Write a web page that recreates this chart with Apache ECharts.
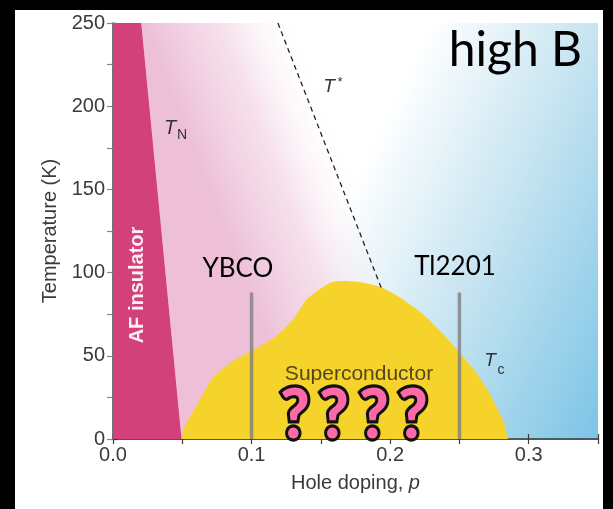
<!DOCTYPE html>
<html>
<head>
<meta charset="utf-8">
<script src="https://cdn.jsdelivr.net/npm/echarts@6/dist/echarts.min.js"></script>
<style>
html,body{margin:0;padding:0;background:#000;}
#c{width:613px;height:509px;}
</style>
</head>
<body>
<div id="c"></div>
<script>
// ---- data ----
var xTicks = [0.0, 0.1, 0.2, 0.3];
var yTicks = [0, 50, 100, 150, 200, 250];
// AF insulator boundary (T_N line), p vs T
var afP = [0, 0.0204, 0.0495];
var afT = [250, 250, 0];
// Superconducting dome (T_c), p vs T
var domeP = [0.0495,0.052,0.058,0.065,0.072,0.087,0.1,0.113,0.122,0.13,0.14,0.157,0.167,0.18,0.194,0.207,0.225,0.248,0.262,0.27,0.277,0.282,0.285];
var domeT = [0,8,17,27,37,47,53,59,65,72,84,94,95,94,91,85,74,54,40,30,19,10,0];
// T* pseudogap line (dashed)
var tStarP = [0.119, 0.1935];
var tStarT = [250, 91];
// measured samples (grey vertical lines)
var sampleP = [0.1, 0.25];
var sampleTop = [88, 88];

var chart = echarts.init(document.getElementById('c'));
var AXC = '#3a3a3a';
var FONT = '"Liberation Sans", Arial, sans-serif';

function zip(a, b) { return a.map(function (v, i) { return [v, b[i]]; }); }

var series = [];
// pink overlay fading towards T*
series.push({
  type: 'custom', z: 1, silent: true,
  data: [[0, 0]],
  renderItem: function (params, api) {
    var pts = [
      api.coord([afP[1], afT[1]]),
      api.coord([afP[2], afT[2]]),
      api.coord([0.35, 0]),
      api.coord([0.35, 250])
    ];
    var a = api.coord([tStarP[0], tStarT[0]]);
    var b = api.coord([tStarP[1], tStarT[1]]);
    var dx = b[0] - a[0], dy = b[1] - a[1];
    var L = Math.sqrt(dx * dx + dy * dy);
    var nx = dy / L, ny = -dx / L;
    var s0 = [a[0] - 125 * nx, a[1] - 125 * ny];
    var s1 = [a[0] + 20 * nx, a[1] + 20 * ny];
    var grad = new echarts.graphic.LinearGradient(s0[0], s0[1], s1[0], s1[1], [
      {offset: 0, color: 'rgba(237,192,216,1)'},
      {offset: 0.5, color: 'rgba(240,205,224,0.6)'},
      {offset: 1, color: 'rgba(255,255,255,0)'}
    ], true);
    return {type: 'polygon', shape: {points: pts}, style: {fill: grad}};
  }
});
// AF insulator
series.push({
  type: 'line', z: 3, silent: true, symbol: 'none',
  data: zip(afP, afT),
  lineStyle: {width: 0},
  areaStyle: {color: '#d3417b', opacity: 1}
});
// superconducting dome
series.push({
  type: 'line', z: 4, silent: true, symbol: 'none', smooth: 0.25,
  data: zip(domeP, domeT),
  lineStyle: {width: 0},
  areaStyle: {color: '#f6d32b', opacity: 1}
});
// grey sample lines
sampleP.forEach(function (p, i) {
  series.push({
    type: 'line', z: 5, silent: true, symbol: 'none',
    data: [[p, 0], [p, sampleTop[i]]],
    lineStyle: {color: 'rgba(128,128,128,0.8)', width: 3.5}
  });
});
// T* dashed
series.push({
  type: 'line', z: 6, silent: true, symbol: 'none',
  data: zip(tStarP, tStarT),
  lineStyle: {color: '#222', width: 1.3, type: [5, 4]}
});

function txt(x, y, s, st, extra) {
  var o = {type: 'text', x: x, y: y, z: 100, style: Object.assign({
    text: s, fontFamily: FONT, fill: '#333', align: 'center', verticalAlign: 'middle'
  }, st)};
  return Object.assign(o, extra || {});
}

var graphics = [
  {type: 'rect', z: -100, shape: {x: 15, y: 10, width: 588, height: 499}, style: {fill: '#fff'}},
  txt(582, 51, 'high B', {fontFamily: 'Lato, "Open Sans", sans-serif', fontSize: 48, fill: '#000', align: 'right'}),
  txt(238, 269, 'YBCO', {fontFamily: 'Lato, "Open Sans", sans-serif', fontSize: 26, fill: '#000'}),
  txt(455, 267, 'Tl2201', {fontFamily: 'Lato, "Open Sans", sans-serif', fontSize: 26, fill: '#000'}),
  txt(359, 374, 'Superconductor', {fontSize: 21, fill: '#55451f'}),
  txt(170, 128, 'T', {fontSize: 20, fontStyle: 'italic'}),
  txt(182, 135, 'N', {fontSize: 14}),
  txt(329, 87, 'T', {fontSize: 19, fontStyle: 'italic'}),
  txt(340, 82, '*', {fontSize: 13}),
  txt(490, 361, 'T', {fontSize: 19, fontStyle: 'italic'}),
  txt(501, 370, 'c', {fontSize: 14}),
  txt(137, 285, 'AF insulator', {fontSize: 20, fontWeight: 'bold', fill: '#fbeef4'}, {rotation: Math.PI / 2})
];
var qx = [295, 334, 374, 413];
qx.forEach(function (x) {
  graphics.push({
    type: 'text', x: x, y: 416, z: 101, scaleY: 1.08,
    style: {text: '?', fontFamily: 'Lato, "DejaVu Sans", sans-serif', fontWeight: 900, fontSize: 64,
      fill: '#fd6aa7', stroke: '#111', lineWidth: 6, strokeFirst: true,
      align: 'center', verticalAlign: 'middle'}
  });
});

var tickStyle = {show: true, inside: true, length: 5, lineStyle: {color: AXC, width: 1.2}};

chart.setOption({
  backgroundColor: '#000',
  animation: false,
  grid: {
    left: 113, top: 23, right: 15, bottom: 70, show: true, borderWidth: 0, z: 0,
    backgroundColor: new echarts.graphic.LinearGradient(0.57, 0.2, 1.19, 0.55, [
      {offset: 0, color: '#ffffff'},
      {offset: 0.45, color: '#c6e4f1'},
      {offset: 1, color: '#7cc4e6'}
    ])
  },
  xAxis: [{
    type: 'value', min: 0, max: 0.35, interval: 0.05,
    axisLine: {show: true, lineStyle: {color: AXC, width: 1.5}},
    axisTick: tickStyle,
    splitLine: {show: false},
    axisLabel: {
      color: AXC, fontSize: 20, fontFamily: FONT, margin: 6,
      formatter: function (v) {
        var k = Math.round(v * 100);
        for (var i = 0; i < xTicks.length; i++) {
          if (Math.round(xTicks[i] * 100) === k) return xTicks[i].toFixed(1);
        }
        return '';
      }
    },
    name: 'Hole doping, {i|p}', nameLocation: 'middle', nameGap: 34,
    nameTextStyle: {color: AXC, fontSize: 20, fontFamily: FONT, rich: {i: {fontStyle: 'italic', fontSize: 20, color: AXC, fontFamily: FONT}}}
  }, {
    type: 'value', position: 'top', min: 0, max: 0.35, interval: 0.05,
    axisLine: {show: true, lineStyle: {color: '#555', width: 1.2}},
    axisTick: tickStyle, axisLabel: {show: false}, splitLine: {show: false}
  }],
  yAxis: [{
    type: 'value', min: 0, max: 250, interval: 25,
    axisLine: {show: true, lineStyle: {color: AXC, width: 1.5}},
    axisTick: tickStyle,
    splitLine: {show: false},
    axisLabel: {
      color: AXC, fontSize: 20, fontFamily: FONT, margin: 8,
      formatter: function (v) { return yTicks.indexOf(v) >= 0 ? String(v) : ''; }
    },
    name: 'Temperature (K)', nameLocation: 'middle', nameGap: 52,
    nameTextStyle: {color: AXC, fontSize: 20, fontFamily: FONT}
  }, {
    type: 'value', position: 'right', min: 0, max: 250, interval: 25,
    axisLine: {show: true, lineStyle: {color: '#999', width: 1.2}},
    axisTick: {show: true, inside: true, length: 6, lineStyle: {color: '#888', width: 1.2}},
    axisLabel: {show: false}, splitLine: {show: false}
  }],
  series: series,
  graphic: graphics
});
</script>
</body>
</html>
